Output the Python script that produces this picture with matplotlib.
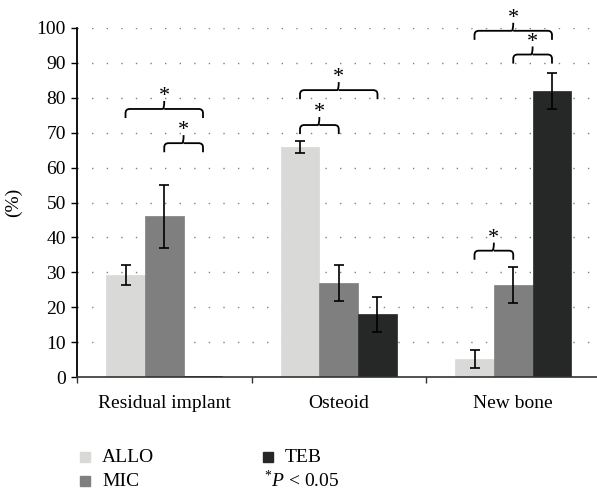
import numpy as np
import matplotlib.pyplot as plt
from matplotlib.path import Path
from matplotlib.patches import PathPatch, Rectangle

plt.rcParams['font.family'] = ['Liberation Serif', 'DejaVu Serif']
plt.rcParams['mathtext.fontset'] = 'custom'
plt.rcParams['mathtext.rm'] = 'Liberation Serif'
plt.rcParams['mathtext.it'] = 'Liberation Serif:italic'

categories = ["Residual implant", "Osteoid", "New bone"]
groups = ["ALLO", "MIC", "TEB"]
colors = ["#d9d9d8", "#7f7f7f", "#262827"]

allo = [29.2, 66.0, 5.2]
mic = [46.0, 27.0, 26.3]
teb = [0.3, 18.0, 82.0]
allo_err = [2.8, 1.7, 2.5]
mic_err = [9.0, 5.1, 5.2]
teb_err = [0.0, 5.0, 5.2]

# brackets: (category, bar a, bar b, top of bracket in %)
brackets = [
    (0, 0, 2, 76.8), (0, 1, 2, 67.0),
    (1, 0, 1, 72.2), (1, 0, 2, 82.2),
    (2, 0, 1, 36.2), (2, 0, 2, 99.2), (2, 1, 2, 92.4),
]

W = 0.222
fig = plt.figure(figsize=(5.97, 4.92), dpi=100)
ax = fig.add_axes([77/597, 1-377/492, 523.5/597, 349/492])

x = np.arange(len(categories))
vals = [allo, mic, teb]
errs = [allo_err, mic_err, teb_err]
for k in range(3):
    ax.bar(x + (k-1)*W, vals[k], W, color=colors[k], edgecolor=colors[k], lw=0.5, zorder=2)
    e = np.array(errs[k])
    m = e > 0
    ax.errorbar((x + (k-1)*W)[m], np.array(vals[k])[m], yerr=e[m], fmt='none',
                ecolor='black', elinewidth=1.2, capsize=3.5, capthick=1.2, zorder=3)

ax.set_xlim(-0.5, 2.5)
ax.set_ylim(0, 100)
ax.set_yticks(range(0, 101, 10))
ax.set_xticks([-0.5, 0.5, 1.5])
ax.set_xticklabels([])
ax.set_xticks(x, minor=True)
ax.set_xticklabels(categories, minor=True, fontsize=14)
ax.tick_params(axis='x', which='minor', length=0, pad=13)
ax.tick_params(axis='x', which='major', length=4, width=1, direction='out', color='#333333')
ax.tick_params(axis='y', length=4, width=1, labelsize=14, pad=4)
for s in ['top', 'right']:
    ax.spines[s].set_visible(False)
ax.spines['left'].set_linewidth(1.3)
ax.spines['bottom'].set_linewidth(1.2)
ax.spines['bottom'].set_color('#333333')
for yv in range(10, 101, 10):
    ax.axhline(yv, color='#808080', lw=1.0, linestyle=(0, (1, 9.5)), zorder=1)
ax.set_ylabel("(%)", fontsize=14, labelpad=10)


def bracket(x1, x2, y):
    leg = 2.6
    rx, ry = 0.025, 1.2
    xm = (x1 + x2) / 2
    verts = [(x1, y - leg), (x1, y - ry), (x1, y), (x1 + rx, y),
             (xm - 0.01, y), (xm, y), (xm, y + 2.3),
             (xm, y), (xm + 0.01, y),
             (x2 - rx, y), (x2, y), (x2, y - ry), (x2, y - leg)]
    codes = [Path.MOVETO, Path.LINETO, Path.CURVE3, Path.CURVE3,
             Path.LINETO, Path.CURVE3, Path.CURVE3,
             Path.MOVETO, Path.LINETO,
             Path.LINETO, Path.CURVE3, Path.CURVE3, Path.LINETO]
    ax.add_patch(PathPatch(Path(verts, codes), fill=False, lw=1.3,
                           edgecolor='black', clip_on=False, zorder=4))
    ax.text(xm, y + 0.8, "*", ha='center', va='bottom', fontsize=16, clip_on=False)


for c, a, b, y in brackets:
    bracket(c + (a-1)*W, c + (b-1)*W, y)

# legend
leg_pos = [(80, 457), (80, 481), (263, 457)]
for k in range(3):
    px, py = leg_pos[k]
    fig.patches.append(Rectangle((px/597, 1-(py+5)/492), 10/597, 10/492,
                                 transform=fig.transFigure, color=colors[k]))
    fig.text((px+22)/597, 1-py/492, groups[k], fontsize=14, va='center')
fig.text(264/597, 1-481/492, r"$^{*}P$ < 0.05", fontsize=14, va='center')

fig.savefig("out.png", dpi=100)
